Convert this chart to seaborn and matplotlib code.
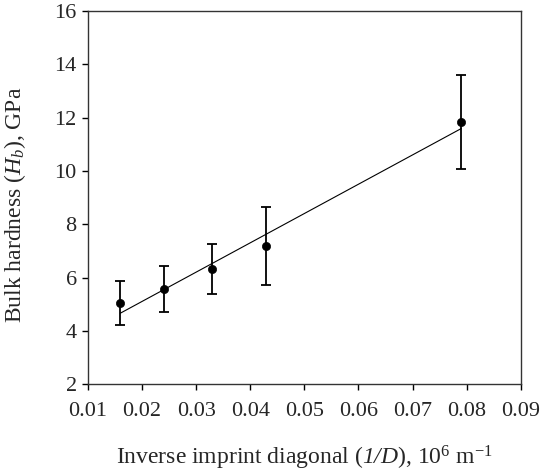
import matplotlib
matplotlib.use('Agg')
import matplotlib.pyplot as plt
import numpy as np
import pandas as pd
import seaborn as sns

# data
inv_diag = [0.016, 0.024, 0.033, 0.043, 0.079]
hardness = [5.04, 5.56, 6.33, 7.19, 11.83]
hard_err = [0.84, 0.87, 0.93, 1.47, 1.75]

df = pd.DataFrame({'x': inv_diag, 'y': hardness, 'err': hard_err})

sns.set_style('ticks')
plt.rcParams['font.family'] = ['Liberation Serif', 'DejaVu Serif']
plt.rcParams['mathtext.fontset'] = 'custom'
plt.rcParams['mathtext.rm'] = 'Liberation Serif'
plt.rcParams['mathtext.it'] = 'Liberation Serif:italic'
plt.rcParams['mathtext.sf'] = 'Liberation Serif:italic'  # italic digits too

fig = plt.figure(figsize=(5.42, 4.76), dpi=100)
ax = fig.add_axes([0.162, 0.193, 0.799, 0.784])

# linear fit line
sns.regplot(data=df, x='x', y='y', ci=None, scatter=False, ax=ax,
            line_kws={'color': 'black', 'lw': 0.8})
ax.errorbar(df['x'], df['y'], yerr=df['err'], fmt='none', ecolor='black',
            elinewidth=1.3, capsize=3.5, capthick=1.3)
sns.scatterplot(data=df, x='x', y='y', ax=ax, color='black', s=35,
                edgecolor='black', zorder=5)

ax.set_xlim(0.01, 0.09)
ax.set_ylim(2, 16)
ax.set_xticks(np.arange(0.01, 0.0901, 0.01))
ax.set_xticklabels([f'{v:.2f}' for v in np.arange(0.01, 0.0901, 0.01)])
ax.set_yticks(range(2, 17, 2))
ax.tick_params(labelsize=16, length=4, width=1, color='black', direction='out',
               top=False, right=False)
ax.tick_params(axis='x', pad=9)
ax.tick_params(axis='y', pad=4)
for s in ax.spines.values():
    s.set_visible(True)
    s.set_color('#333333')
    s.set_linewidth(1)

ax.set_xlabel(r'Inverse imprint diagonal ($\mathsf{1/D}$), 10$^{6}$ m$^{\mathregular{-1}}$',
              fontsize=17, labelpad=16)
ax.set_ylabel(r'Bulk hardness ($H_b$), GPa', fontsize=17)
ax.yaxis.set_label_coords(-0.137, 0.48)

fig.savefig('out.png', dpi=100)
